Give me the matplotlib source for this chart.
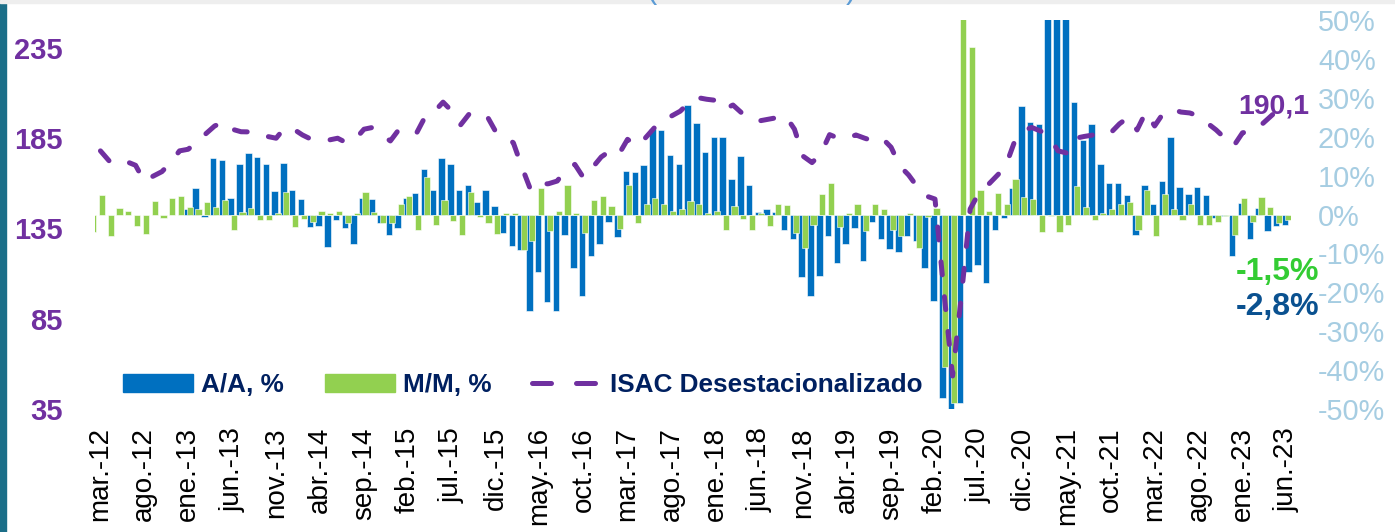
import numpy as np
import matplotlib
matplotlib.use("Agg")
import matplotlib.pyplot as plt
from matplotlib.patches import Patch, Rectangle
from matplotlib.lines import Line2D

plt.rcParams["font.family"] = ["Liberation Sans", "DejaVu Sans"]

# months from feb-12 (index -1) to jun-23 (index 135)
month_idx = np.arange(-1, 136)

tick_labels = ["mar.-12", "ago.-12", "ene.-13", "jun.-13", "nov.-13", "abr.-14", "sep.-14",
               "feb.-15", "jul.-15", "dic.-15", "may.-16", "oct.-16", "mar.-17", "ago.-17",
               "ene.-18", "jun.-18", "nov.-18", "abr.-19", "sep.-19", "feb.-20", "jul.-20",
               "dic.-20", "may.-21", "oct.-21", "mar.-22", "ago.-22", "ene.-23", "jun.-23"]

# A/A, % (starts ene-13)
aa = [np.nan] * 11 + [
    1.5, 6.9, -0.6, 14.4, 14.0, 4.3, 12.9, 15.9, 14.8, 12.9,
    6.0, 13.3, 6.2, 4.1, -3.3, -3.0, -8.4, -1.3, -3.4, -7.7,
    4.3, 4.1, -2.3, -5.2, -3.4, 4.3, 5.6, 11.8, 6.2, 14.4,
    12.9, 6.2, 7.5, 3.3, 6.4, 2.3, -4.7, -8.2, -9.2, -24.7,
    -14.9, -22.5, -24.7, -5.3, -13.7, -20.9, -10.7, -7.7, -2.0, -5.8,
    11.3, 10.9, 12.6, 22.1, 21.7, 15.2, 13.1, 28.1, 23.4, 16.1,
    20.0, 19.9, 9.0, 15.0, 7.5, 0.6, 1.5, 0.6, -4.0, -6.4,
    -16.1, -20.9, -15.9, -5.4, -12.5, -7.6, -3.4, -12.0, -2.0, -6.3,
    -8.8, -9.7, -5.4, -6.7, -13.7, -22.3, -47.3, -52.0, -48.5, -14.9,
    -13.1, -17.6, -3.9, -1.0, 6.7, 27.9, 23.8, 23.2, 75.0, 85.0,
    70.0, 29.0, 19.1, 23.2, 12.9, 8.2, 8.2, 5.0, -5.2, 7.7,
    2.6, 8.6, 19.8, 7.1, 5.2, 7.1, 4.9, -1.0, -0.4, -10.6,
    3.0, -6.3, 1.7, -4.3, -2.9, -2.8]

# M/M, %
mm = [-4.6,
      4.9, -5.4, 1.7, 1.0, -3.0, -5.0, 3.4, -1.0, 4.3, 4.7,
      2.0, 1.3, 3.3, 1.9, 3.7, -3.9, 0.6, 1.7, -1.5, -1.5,
      0.5, 5.8, -3.2, -1.1, -2.0, 0.9, 0.3, 1.0, -2.1, 0.3,
      5.8, 0.6, -2.1, -2.1, 2.7, 4.7, -4.0, 9.6, -2.7, 3.7,
      -1.7, -5.3, 5.8, -0.7, -2.3, -4.9, 0.5, 0.3, -9.2, -6.7,
      6.7, -4.3, 0.9, 7.7, 0.5, -4.7, 3.7, 4.7, 2.1, -3.7,
      7.7, -2.1, 2.6, 4.3, 2.8, 0.9, 1.5, 3.4, 2.7, 0.4,
      1.0, -3.9, 2.3, -1.1, -3.9, 0.3, -3.0, 2.7, 2.4, -4.7,
      -8.6, -2.6, 5.3, 8.0, -3.2, 0.4, 2.6, -4.3, 2.7, 1.3,
      -3.9, -5.6, 0.5, -8.6, -0.6, 1.7, -39.3, -48.5, 65.0, 43.0,
      6.2, 1.0, 5.4, 2.8, 9.2, 4.5, 4.1, -4.5, -0.4, -4.5,
      -2.7, 7.3, 1.9, -1.3, 0.4, 1.5, 2.6, 3.2, -4.1, 6.3,
      -5.4, 5.2, 1.3, -1.3, 2.8, -2.6, -2.6, -2.0, -0.5, -5.2,
      4.3, -2.0, 4.5, 2.0, -2.3, -1.5]

# ISAC desestacionalizado (starts mar-12)
isac = [np.nan,
        178, 172.4, 174, 172, 170, 161, 164, 166.5, 171.6, 178,
        178.9, 183.5, 187.5, 191.8, 194, 190, 188.6, 188.5, 188, 186,
        185, 191, 190, 186.8, 184.4, 183.8, 184, 185, 182.5, 184.4,
        190, 191, 187, 183.5, 190, 189, 188, 197.3, 199.7, 205,
        200, 192.4, 198.6, 199, 197.3, 188.6, 186, 182.5, 168.7, 156,
        159.5, 159.8, 161.3, 167.8, 170.5, 163, 168.7, 174.6, 178, 176,
        184.4, 180.7, 185, 190.5, 195.5, 197.3, 200, 204.7, 207.5, 206.6,
        206, 201, 203.4, 199, 196, 194.6, 195.5, 196.4, 197.3, 190,
        175, 171.5, 176.4, 187, 185, 185, 186.8, 185, 183.5, 185,
        180, 169.6, 164.6, 158, 153, 151.3, 100.4, 53.3, 97.6, 145.8,
        154.7, 159, 164, 169, 182.4, 189, 191, 189, 186, 178,
        176.8, 185, 186, 186.8, 186, 188, 193, 196.6, 189.6, 199.5,
        191.8, 199, 201, 199.5, 199, 197.3, 193.4, 189.6, 185, 180.7,
        188, 189, 191.8, 196.2, 200.6, 204]

blue = "#0070C0"
green = "#92D050"
purple = "#7030A0"
navy = "#002060"

W, H = 1395, 532
fig = plt.figure(figsize=(W / 100, H / 100), dpi=100)
ax = fig.add_axes([95 / W, (H - 409) / H, 1195.8 / W, 389 / H])
ax2 = ax.twinx()

ax2.bar(month_idx - 0.17, aa, width=0.74, color=blue, edgecolor="white", linewidth=0.4)
ax2.bar(month_idx + 0.17, mm, width=0.70, color=green, edgecolor="white", linewidth=0.4)
ax2.set_ylim(-50, 50)

ax.plot(month_idx, isac, color=purple, lw=3.6, linestyle=(0, (2.6, 4.4)),
        dash_capstyle="round", dash_joinstyle="round")
ax.set_ylim(35, 250.5)
ax.set_xlim(-0.62, 135.5)

ax.set_zorder(ax2.get_zorder() + 1)
ax.patch.set_visible(False)

for a in (ax, ax2):
    for s in a.spines.values():
        s.set_visible(False)

ax.set_xticks(np.arange(0, 136, 5))
ax.set_xticklabels(tick_labels, rotation=90, fontsize=20, color="black")
ax.tick_params(axis="x", length=0, pad=13)

ax.set_yticks([35, 85, 135, 185, 235])
ax.set_yticklabels(["35", "85", "135", "185", "235"], fontsize=21, fontweight="bold", color=purple)
ax.tick_params(axis="y", length=0, pad=23.5)

pct_ticks = list(range(-50, 51, 10))
ax2.set_yticks(pct_ticks)
ax2.set_yticklabels([f"{v}%" for v in pct_ticks], fontsize=20.8, color="#A6CDE2")
ax2.tick_params(axis="y", length=0, pad=19.5)

handles = [Patch(color=blue), Patch(color=green),
           Line2D([], [], color=purple, lw=3.6, linestyle=(0, (3.8, 5.0)), dash_capstyle="round")]
ax.legend(handles, ["A/A, %", "M/M, %", "ISAC Desestacionalizado"],
          loc="center left", bbox_to_anchor=(0.0234, 0.0617), ncol=3, frameon=False,
          prop={"weight": "bold", "size": 18.8}, labelcolor=navy,
          handlelength=2.7, handleheight=0.65, handletextpad=0.3, columnspacing=1.55,
          borderpad=0, borderaxespad=0)

fig.text(1238 / W, 1 - 113 / H, "190,1", color=purple, fontsize=20.5, fontweight="bold",
         ha="left", va="baseline")
fig.text(1236 / W, 1 - 280 / H, "-1,5%", color="#33CC33", fontsize=23, fontweight="bold",
         ha="left", va="baseline")
fig.text(1236 / W, 1 - 315 / H, "-2,8%", color="#0A5190", fontsize=23, fontweight="bold",
         ha="left", va="baseline")

# frame bits of the slide
fig.patches.append(Rectangle((0, 0), 6 / W, 1, transform=fig.transFigure, color="#1B6E88"))
fig.patches.append(Rectangle((0, 1 - 3 / H), 1, 3 / H, transform=fig.transFigure, color="#EEEEEE"))
fig.text(651 / W, 1 + 10 / H, "(", fontsize=22, color="#5B9BD5", ha="center", va="center")
fig.text(851 / W, 1 + 10 / H, ")", fontsize=22, color="#5B9BD5", ha="center", va="center")

fig.savefig("out.png", dpi=100)
